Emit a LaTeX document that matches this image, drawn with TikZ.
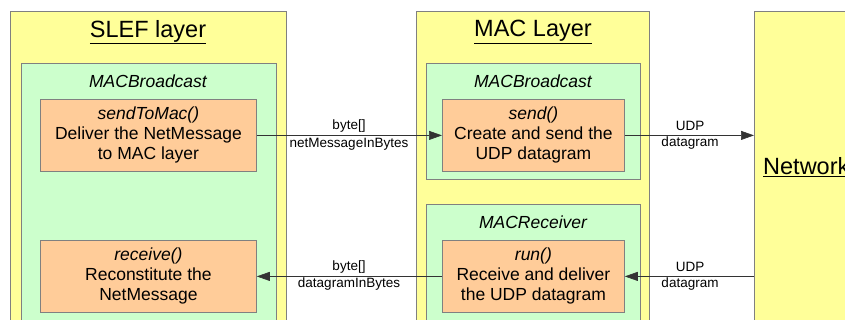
\documentclass[tikz,border=0pt]{standalone}
\usepackage{fontspec}
\setmainfont{Liberation Sans}
\usetikzlibrary{arrows.meta}
\begin{document}
\begin{tikzpicture}[x=1pt,y=1pt,
  bx/.style={draw=black!50, line width=0.8pt, anchor=north west, inner sep=0pt},
  ybox/.style={bx},
  gbox/.style={bx},
  obox/.style={bx, minimum width=216, minimum height=72},
  body/.style={align=center, font=\fontsize{17.5}{20}\selectfont},
  ttl/.style={font=\fontsize{23.5}{26}\selectfont},
  cls/.style={font=\fontsize{17.5}{20}\selectfont\itshape},
  lbl/.style={font=\fontsize{13.5}{15}\selectfont, inner sep=0pt},
  arr/.style={draw=black!80, line width=0.6pt, -{Triangle[length=13pt,width=9pt]}}
]
\useasboundingbox (0,0) rectangle (845,-320);
\clip (0,0) rectangle (845,-320);
\definecolor{yel}{HTML}{FFFF99}
\definecolor{grn}{HTML}{CCFFCC}
\definecolor{org}{HTML}{FFCC99}
\tikzset{ybox/.append style={fill=yel}, gbox/.append style={fill=grn}, obox/.append style={fill=org}}
% SLEF layer
\node[ybox, minimum width=276, minimum height=330] (slef) at (10,-11) {};
\node[ttl] (sleft) at (148,-32) {\underline{SLEF layer}};
\node[gbox, minimum width=255, minimum height=280] (slefg) at (21,-63) {};
\node[cls] (slefc) at (148,-81) {MACBroadcast};
\node[obox] (sendtomac) at (40,-99) {};
\node[body] at (sendtomac.center) {\textit{sendToMac()}\\Deliver the NetMessage\\to MAC layer};
\node[obox] (receive) at (40,-240) {};
\node[body] at (receive.center) {\textit{receive()}\\Reconstitute the\\NetMessage};
% MAC layer
\node[ybox, minimum width=233, minimum height=330] (mac) at (416,-11) {};
\node[ttl] (mact) at (533,-32) {\underline{MAC Layer}};
\node[gbox, minimum width=214, minimum height=116] (macb) at (426,-63) {};
\node[cls] (macbc) at (533,-81) {MACBroadcast};
\node[obox, minimum width=182] (send) at (442,-99) {};
\node[body] at (send.center) {\textit{send()}\\Create and send the\\UDP datagram};
\node[gbox, minimum width=214, minimum height=130] (macr) at (426,-204) {};
\node[cls] (macrc) at (533,-222) {MACReceiver};
\node[obox, minimum width=182] (run) at (442,-240) {};
\node[body] at (run.center) {\textit{run()}\\Receive and deliver\\the UDP datagram};
% Network
\node[ybox, minimum width=120, minimum height=330] (net) at (754,-11) {};
\node[ttl, anchor=west, inner sep=0pt] (nett) at (763,-167) {\underline{Network}};
% Arrows
\draw[arr] (sendtomac.east) -- (send.west);
\node[lbl] at (349,-126) {byte[]};
\node[lbl] at (349,-144) {netMessageInBytes};
\draw[arr] (send.east) -- (send.east -| net.west);
\node[lbl] at (690,-126) {UDP};
\node[lbl] at (690,-143) {datagram};
\draw[arr] (run.west) -- (receive.east);
\node[lbl] at (349,-267) {byte[]};
\node[lbl] at (349,-284) {datagramInBytes};
\draw[arr] (run.east -| net.west) -- (run.east);
\node[lbl] at (690,-267) {UDP};
\node[lbl] at (690,-284) {datagram};
\end{tikzpicture}
\end{document}
